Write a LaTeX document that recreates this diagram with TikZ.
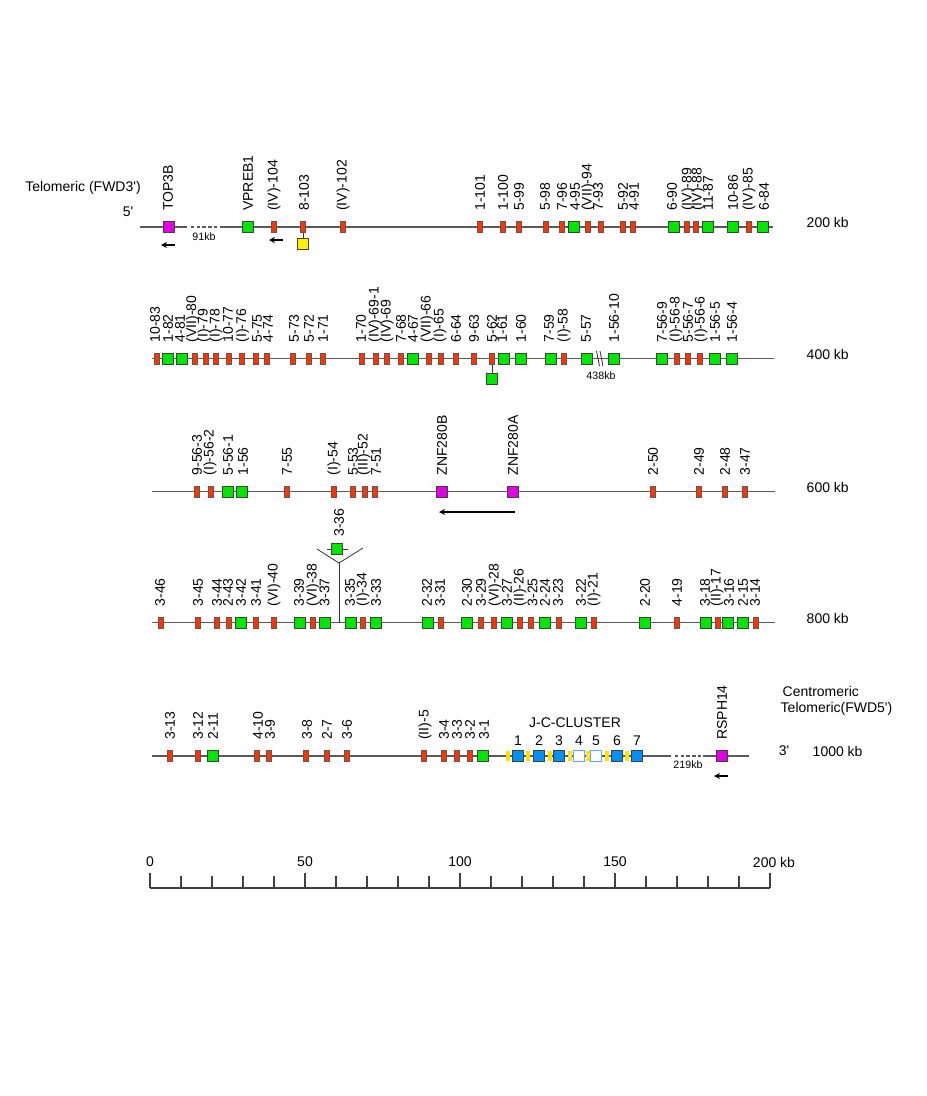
\documentclass[tikz,border=0pt]{standalone}
\usepackage{fontspec}
\setmainfont{Liberation Sans}
\usetikzlibrary{arrows.meta}
\definecolor{gred}{RGB}{255,51,0}
\definecolor{ggreen}{RGB}{0,230,0}
\definecolor{gmag}{RGB}{225,0,225}
\definecolor{gblue}{RGB}{0,145,245}
\definecolor{lblue}{RGB}{90,170,255}
\definecolor{jyel}{RGB}{255,222,0}
\newcommand\gn[5]{\node[#2] (#1) at (#3,\ry) {}; \node[lab] (#1t) at (#4,\ly) {#5};}
\begin{document}
\begin{tikzpicture}[x=0.75pt,y=-0.75pt,
  font=\fontsize{10.5}{12}\selectfont,
  lab/.style={rotate=90,anchor=west,inner sep=0pt},
  rg/.style={draw=black!65,line width=0.45pt,fill=gred,minimum width=3.9pt,minimum height=8pt,inner sep=0pt},
  gg/.style={draw=black!75,line width=0.5pt,fill=ggreen,minimum size=8.3pt,inner sep=0pt},
  mg/.style={draw=black!75,line width=0.5pt,fill=gmag,minimum size=8pt,inner sep=0pt},
  yg/.style={draw=black!75,line width=0.5pt,fill=yellow,minimum size=8pt,inner sep=0pt},
  bg/.style={draw=black!75,line width=0.5pt,fill=gblue,minimum size=8.3pt,inner sep=0pt},
  wg/.style={draw=lblue,line width=0.8pt,fill=white,minimum size=7.6pt,inner sep=0pt},
  jy/.style={fill=jyel,minimum width=3pt,minimum height=8pt,inner sep=0pt},
  chrom/.style={draw=black!65,line width=0.9pt},
  link/.style={draw=black!80,line width=0.6pt},
  small/.style={font=\fontsize{8}{9}\selectfont},
  arr/.style={-{Stealth[length=4.5pt,width=4.5pt]},line width=0.9pt},
  rowkb/.style={anchor=west},
]
\useasboundingbox (0,0) rectangle (926,1096);

% ---------------- Row 1 ----------------
\def\ry{227}\def\ly{211}
\coordinate (r1a) at (140,\ry); \coordinate (r1b) at (187,\ry);
\coordinate (r1c) at (191,\ry); \coordinate (r1d) at (222,\ry);
\coordinate (r1e) at (773,\ry);
\draw[chrom] (r1a) -- (r1b);
\draw[chrom,dash pattern=on 2.5pt off 1.8pt] (r1c) -- (r1d);
\draw[chrom] (r1d) -- (r1e);
\node (tel3) at (83,188) {Telomeric (FWD3\textquotesingle)};
\node (p5) at (128,212) {5\textquotesingle};
\node[small] (kb91) at (204,237) {91kb};
\node[rowkb] (kb200) at (802,222) {200 kb};
\coordinate (ar1s) at (175,245); \coordinate (ar1e) at (161,245);
\coordinate (ar2s) at (283,240); \coordinate (ar2e) at (269,240);
\draw[arr] (ar1s) -- (ar1e);
\draw[arr] (ar2s) -- (ar2e);
\node[yg] (y103) at (303,244) {};
\coordinate (l103) at (303,\ry);
\draw[link] (l103) -- (y103);
\gn{t3b}{mg}{169}{168}{TOP3B}
\gn{vpb}{gg}{248}{248}{VPREB1}
\gn{a104}{rg}{274}{274}{(IV)-104}
\gn{a103}{rg}{303}{304}{8-103}
\gn{a102}{rg}{343}{343}{(IV)-102}
\gn{a101}{rg}{480}{480}{1-101}
\gn{a100}{rg}{503}{503}{1-100}
\gn{a99}{rg}{519}{519}{5-99}
\gn{a98}{rg}{546}{545}{5-98}
\gn{a96}{rg}{562}{562}{7-96}
\gn{a95}{gg}{574}{575}{4-95}
\gn{a94}{rg}{588}{588}{(VII)-94}
\gn{a93}{rg}{601}{598}{7-93}
\gn{a92}{rg}{623}{623}{5-92}
\gn{a91}{rg}{633}{634}{4-91}
\gn{a90}{gg}{674}{672}{6-90}
\gn{a89}{rg}{687}{688}{(IV)-89}
\gn{a88}{rg}{696}{698}{(IV)-88}
\gn{a87}{gg}{708}{708}{11-87}
\gn{a86}{gg}{733}{733}{10-86}
\gn{a85}{rg}{749}{749}{(IV)-85}
\gn{a84}{gg}{763}{764}{6-84}

% ---------------- Row 2 ----------------
\def\ry{358.5}\def\ly{342.5}
\coordinate (r2a) at (152,\ry); \coordinate (r2e) at (774,\ry);
\draw[chrom] (r2a) -- (r2e);
\node[rowkb] (kb400) at (802,354) {400 kb};
\coordinate (br1a) at (596.5,351); \coordinate (br1b) at (599.5,366);
\coordinate (br2a) at (600,351); \coordinate (br2b) at (603,366);
\draw[link] (br1a) -- (br1b);
\draw[link] (br2a) -- (br2b);
\node[small] (kb438) at (601,376) {438kb};
\node[gg] (b62g) at (492,379) {};
\coordinate (l62) at (492,\ry);
\draw[link] (l62) -- (b62g);
\gn{b83}{rg}{157}{155}{10-83}
\gn{b82}{gg}{168}{168}{1-82}
\gn{b81}{gg}{182}{180}{4-81}
\gn{b80}{rg}{195}{192.5}{(VII)-80}
\gn{b79}{rg}{206}{204}{(I)-79}
\gn{b78}{rg}{216}{216}{(I)-78}
\gn{b77}{rg}{229}{228}{10-77}
\gn{b76}{rg}{242}{242.5}{(I)-76}
\gn{b75}{rg}{256}{257}{5-75}
\gn{b74}{rg}{267}{268}{4-74}
\gn{b73}{rg}{293}{294}{5-73}
\gn{b72}{rg}{309}{309}{5-72}
\gn{b71}{rg}{323}{323}{1-71}
\gn{b70}{rg}{362}{361}{1-70}
\gn{b691}{rg}{376}{375}{(IV)-69-1}
\gn{b69}{rg}{387}{387}{(IV)-69}
\gn{b68}{rg}{401}{401}{7-68}
\gn{b67}{gg}{413}{413}{4-67}
\gn{b66}{rg}{429}{427}{(VII)-66}
\gn{b65}{rg}{441}{440}{(I)-65}
\gn{b64}{rg}{456}{456}{6-64}
\gn{b63}{rg}{474}{474}{9-63}
\gn{b62}{rg}{492}{492}{5-62}
\gn{b61}{gg}{504}{502}{1-61}
\gn{b60}{gg}{521}{521}{1-60}
\gn{b59}{gg}{551}{549}{7-59}
\gn{b58}{rg}{564}{564}{(I)-58}
\gn{b57}{gg}{587}{586}{5-57}
\gn{b5610}{gg}{614}{614}{1-56-10}
\gn{b569}{gg}{662}{662}{7-56-9}
\gn{b568}{rg}{677}{676}{(I)-56-8}
\gn{b567}{rg}{688}{688}{5-56-7}
\gn{b566}{rg}{700}{701}{(I)-56-6}
\gn{b565}{gg}{715}{715}{1-56-5}
\gn{b564}{gg}{732}{732}{1-56-4}

% ---------------- Row 3 ----------------
\def\ry{491.5}\def\ly{475.5}
\coordinate (r3a) at (152,\ry); \coordinate (r3e) at (775,\ry);
\draw[chrom] (r3a) -- (r3e);
\node[rowkb] (kb600) at (802,487) {600 kb};
\coordinate (ar3s) at (515,512); \coordinate (ar3e) at (439,512);
\draw[arr] (ar3s) -- (ar3e);
\gn{c563}{rg}{197}{197}{9-56-3}
\gn{c562}{rg}{211}{210}{(I)-56-2}
\gn{c561}{gg}{228}{228}{5-56-1}
\gn{c56}{gg}{242}{243}{1-56}
\gn{c55}{rg}{287}{287}{7-55}
\gn{c54}{rg}{334}{334}{(I)-54}
\gn{c53}{rg}{353}{353}{5-53}
\gn{c52}{rg}{365}{364}{(III)-52}
\gn{c51}{rg}{375}{376}{7-51}
\gn{znfb}{mg}{442}{442}{ZNF280B}
\gn{znfa}{mg}{513}{513}{ZNF280A}
\gn{c50}{rg}{653}{653}{2-50}
\gn{c49}{rg}{699}{699}{2-49}
\gn{c48}{rg}{725}{725}{2-48}
\gn{c47}{rg}{745}{745}{3-47}

% ---------------- Row 4 ----------------
\def\ry{622.5}\def\ly{606.5}
\coordinate (r4a) at (152,\ry); \coordinate (r4e) at (775,\ry);
\draw[chrom] (r4a) -- (r4e);
\node[rowkb] (kb800) at (802,618) {800 kb};
\coordinate (vl) at (317,549); \coordinate (vtx) at (339,563);
\coordinate (vr) at (363,548); \coordinate (vb) at (339,\ry);
\coordinate (hl) at (327,549); \coordinate (hr) at (348,549);
\draw[link] (vl) -- (vtx) -- (vr);
\draw[link] (vtx) -- (vb);
\draw[link] (hl) -- (hr);
\node[gg] (d36) at (337,549) {};
\node[lab] (d36t) at (339,537) {3-36};
\gn{d46}{rg}{161}{160}{3-46}
\gn{d45}{rg}{198}{198}{3-45}
\gn{d44}{rg}{217}{217}{3-44}
\gn{d43}{rg}{229}{228}{2-43}
\gn{d42}{gg}{241}{241}{3-42}
\gn{d41}{rg}{256}{256}{3-41}
\gn{d40}{rg}{274}{274}{(VI)-40}
\gn{d39}{gg}{300}{299}{3-39}
\gn{d38}{rg}{313}{313}{(VI)-38}
\gn{d37}{gg}{325}{324.5}{3-37}
\gn{d35}{gg}{351}{350}{3-35}
\gn{d34}{rg}{363}{363}{(I)-34}
\gn{d33}{gg}{376}{376}{3-33}
\gn{d32}{gg}{428}{427}{2-32}
\gn{d31}{rg}{441}{440}{3-31}
\gn{d30}{gg}{467}{467}{2-30}
\gn{d29}{rg}{481}{481}{3-29}
\gn{d28}{rg}{494}{495}{(VI)-28}
\gn{d27}{gg}{507}{507}{3-27}
\gn{d26}{rg}{520}{520}{(II)-26}
\gn{d25}{rg}{531}{532.5}{3-25}
\gn{d24}{gg}{545}{545}{2-24}
\gn{d23}{rg}{559}{558}{3-23}
\gn{d22}{gg}{581}{581}{3-22}
\gn{d21}{rg}{594}{594}{(I)-21}
\gn{d20}{gg}{645}{645}{2-20}
\gn{d19}{rg}{677}{677}{4-19}
\gn{d18}{gg}{706}{705}{3-18}
\gn{d17}{rg}{718}{717}{(II)-17}
\gn{d16}{gg}{728}{729}{3-16}
\gn{d15}{gg}{743}{743}{2-15}
\gn{d14}{rg}{756}{755}{3-14}

% ---------------- Row 5 ----------------
\def\ry{756}\def\ly{740}
\coordinate (r5a) at (152,\ry); \coordinate (r5b) at (671,\ry);
\coordinate (r5c) at (675,\ry); \coordinate (r5d) at (703,\ry);
\coordinate (r5e) at (749,\ry);
\draw[chrom] (r5a) -- (r5b);
\draw[chrom,dash pattern=on 2.5pt off 1.8pt] (r5c) -- (r5d);
\draw[chrom] (r5d) -- (r5e);
\node[small] (kb219) at (688,765) {219kb};
\node[anchor=west] (cen) at (778,691) {Centromeric};
\node[anchor=west] (tel5) at (776,709) {Telomeric(FWD5\textquotesingle)};
\node (p3) at (784,751) {3\textquotesingle};
\node[rowkb] (kb1000) at (808,751) {1000 kb};
\coordinate (ar5s) at (728,776); \coordinate (ar5e) at (714,776);
\draw[arr] (ar5s) -- (ar5e);
\gn{e13}{rg}{170}{170}{3-13}
\gn{e12}{rg}{198}{198}{3-12}
\gn{e11}{gg}{213}{213}{2-11}
\gn{e10}{rg}{257}{258}{4-10}
\gn{e9}{rg}{269}{270}{3-9}
\gn{e8}{rg}{306}{307}{3-8}
\gn{e7}{rg}{327}{327}{2-7}
\gn{e6}{rg}{347}{347}{3-6}
\gn{e5}{rg}{424}{425}{(II)-5}
\gn{e4}{rg}{444}{444}{3-4}
\gn{e3}{rg}{457}{457}{3-3}
\gn{e2}{rg}{470}{470}{3-2}
\gn{e1}{gg}{483}{484}{3-1}
\gn{rsph}{mg}{722}{722}{RSPH14}
% J-C cluster
\node (jcc) at (575,723) {J-C-CLUSTER};
\foreach \yx/\bx/\st/\n in {508/518/bg/1,528/539/bg/2,550/559/bg/3,570/579/wg/4,588/596/wg/5,607/617/bg/6,627/637/bg/7}{
  \node[jy] (jy\n) at (\yx,\ry) {};
  \node[\st] (jc\n) at (\bx,\ry) {};
  \node (jn\n) at (\bx,741) {\n};
}
\foreach \n in {4,5}{
  \draw[white,line width=0.5pt] ([xshift=-1pt,yshift=-2pt]jy\n.center) -- ([xshift=1pt,yshift=2pt]jy\n.center);
}

% ---------------- Axis ----------------
\coordinate (ax0) at (150,888); \coordinate (ax1) at (770,888);
\draw[black!75,line width=0.8pt] (ax0) -- (ax1);
\foreach \i in {0,...,20}{
  \pgfmathsetmacro\tx{150+31*\i}
  \pgfmathsetmacro\th{mod(\i,5)==0 ? 873 : 876}
  \draw[black!75,line width=0.8pt] (\tx,888) -- (\tx,\th);
}
\node (t0) at (150,862) {0};
\node (t50) at (305,862) {50};
\node (t100) at (460,862) {100};
\node (t150) at (615,862) {150};
\node (t200) at (774,862) {200 kb};
\end{tikzpicture}
\end{document}
